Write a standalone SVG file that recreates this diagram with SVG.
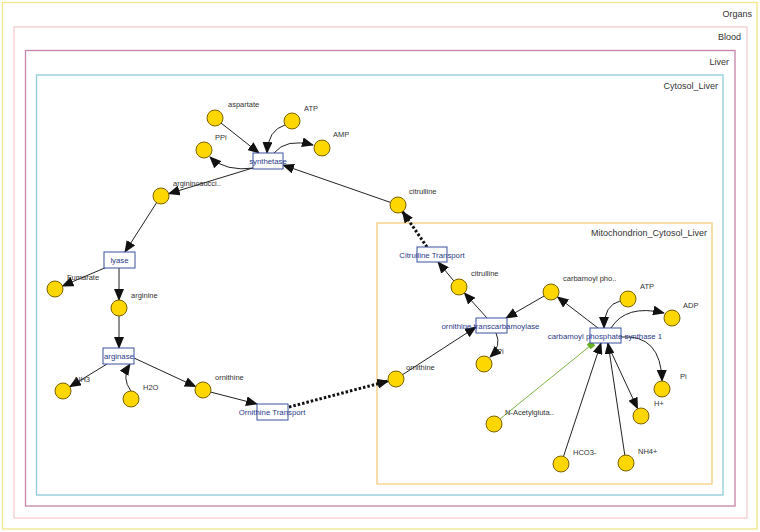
<svg xmlns="http://www.w3.org/2000/svg" width="760" height="532" viewBox="0 0 760 532">
<style>
.comp{fill:none;stroke-width:1.3}
.ct{font-family:"Liberation Sans",Arial,sans-serif;font-size:9px;fill:#333;text-anchor:end}
.sp circle{fill:#FFD700;stroke:#7a6000;stroke-width:1}
.sp text{font-family:"Liberation Sans",Arial,sans-serif;font-size:7.5px;fill:#333}
.rx rect{fill:#fff;stroke:#3a50a0;stroke-width:1}
.rx text{font-family:"Liberation Sans",Arial,sans-serif;font-size:7.8px;fill:#2b3a8c;text-anchor:middle}
.e{fill:none;stroke:#222;stroke-width:1;marker-end:url(#ah)}
.d{fill:none;stroke:#111;stroke-width:3;stroke-dasharray:2.5,2;marker-end:url(#ah)}
</style>
<defs>
<marker id="ah" markerUnits="userSpaceOnUse" markerWidth="12" markerHeight="10" refX="11" refY="5" orient="auto" viewBox="0 0 12 10"><path d="M0,0 L12,5 L0,10 z" fill="#111"/></marker>
</defs>
<rect width="760" height="532" fill="#fff"/>
<g id="compartments">
<rect class="comp" x="2.5" y="2.5" width="754.5" height="526.5" stroke="#f2e68a"/>
<text class="ct" x="752" y="17">Organs</text>
<rect class="comp" x="14" y="27" width="733" height="491" stroke="#f4cccc"/>
<text class="ct" x="741" y="40">Blood</text>
<rect class="comp" x="25.5" y="50.5" width="709.5" height="455.5" stroke="#c682aa"/>
<text class="ct" x="729" y="65">Liver</text>
<rect class="comp" x="36.5" y="75" width="686.5" height="420" stroke="#8ccad8"/>
<text class="ct" x="718" y="89">Cytosol_Liver</text>
<rect class="comp" x="377" y="223" width="335" height="261" stroke="#f2cc7e"/>
<text class="ct" x="707" y="236">Mitochondrion_Cytosol_Liver</text>
</g>
<g id="connectors">
<path class="e" d="M221,123 L259,153"/>
<path class="e" d="M285,125 Q268,130 267,153"/>
<path class="e" d="M274,153 Q286,138 313,145"/>
<path class="e" d="M255,168 Q225,172 210,157"/>
<path class="e" d="M256,167 L168.7,193.7"/>
<path class="e" d="M390.4,202.4 L283,165"/>
<path class="e" d="M156.6,202.7 L125,252"/>
<path class="e" d="M107,267 L62.4,286"/>
<path class="e" d="M119,268 L119,300"/>
<path class="e" d="M119,316 L119,348"/>
<path class="e" d="M107,364 L69.8,386.8"/>
<path class="e" d="M131,391 Q121,378 130,364"/>
<path class="e" d="M134,358 L195.7,386.6"/>
<path class="e" d="M210.7,392.1 L257,404"/>
<path class="d" d="M289,407 L388.3,381"/>
<path class="e" d="M402.7,374.6 L476,327"/>
<path class="e" d="M544.1,296 L506,318"/>
<path class="e" d="M487,318 L464.4,292.9"/>
<path class="e" d="M496,333 Q502,346 490,357"/>
<path class="e" d="M453.8,280.9 L438,262"/>
<path class="d" d="M427,247 L402.5,211.6"/>
<path class="e" d="M598,328 L557.4,296.9"/>
<path class="e" d="M620,301 Q604,305 604,328"/>
<path class="e" d="M611,328 Q626,304 664,313"/>
<path class="e" d="M621,337 Q661,334 662,381"/>
<path class="e" d="M607,343 L637.6,408.7"/>
<path class="e" d="M563.5,456.4 L601,343"/>
<path class="e" d="M624.8,455.1 L608,343"/>
<path d="M500,419 L590,346" fill="none" stroke="#7cb342" stroke-width="1"/>
<rect x="588" y="342" width="6" height="6" fill="#6ab023" transform="rotate(-39 591 345)"/>
</g>
<g id="synthetase" class="rx"><rect x="253" y="153" width="30" height="16"/><text x="268" y="164">synthetase</text></g>
<g id="lyase" class="rx"><rect x="104" y="252" width="31" height="16"/><text x="119.5" y="263">lyase</text></g>
<g id="arginase" class="rx"><rect x="103" y="348" width="31" height="16"/><text x="119" y="359">arginase</text></g>
<g id="ornithine_transport" class="rx"><rect x="257" y="404" width="31" height="16"/><text x="272" y="415">Ornithine Transport</text></g>
<g id="citrulline_transport" class="rx"><rect x="417" y="247" width="30" height="15"/><text x="432" y="258">Citrulline Transport</text></g>
<g id="otc" class="rx"><rect x="476" y="318" width="31" height="15"/><text x="490.5" y="329">ornithine transcarbamoylase</text></g>
<g id="cps1" class="rx"><rect x="590" y="328" width="31" height="15"/><text x="605" y="339">carbamoyl phosphate synthase 1</text></g>
<g id="aspartate" class="sp"><circle cx="215" cy="118" r="8"/><text x="228" y="107">aspartate</text></g>
<g id="atp1" class="sp"><circle cx="292" cy="121" r="8"/><text x="304" y="111">ATP</text></g>
<g id="amp" class="sp"><circle cx="322" cy="148" r="8"/><text x="333" y="137">AMP</text></g>
<g id="ppi" class="sp"><circle cx="204" cy="150" r="8"/><text x="215" y="140">PPi</text></g>
<g id="argininosucc" class="sp"><circle cx="161" cy="196" r="8"/><text x="173" y="186">argininosucci..</text></g>
<g id="citrulline_cyt" class="sp"><circle cx="398" cy="205" r="8"/><text x="409" y="194">citrulline</text></g>
<g id="fumarate" class="sp"><circle cx="55" cy="289" r="8"/><text x="67" y="280">Fumarate</text></g>
<g id="arginine" class="sp"><circle cx="119" cy="308" r="8"/><text x="131" y="298">arginine</text></g>
<g id="nh3" class="sp"><circle cx="63" cy="391" r="8"/><text x="75" y="382">NH3</text></g>
<g id="h2o" class="sp"><circle cx="131" cy="399" r="8"/><text x="143" y="390">H2O</text></g>
<g id="ornithine_cyt" class="sp"><circle cx="203" cy="390" r="8"/><text x="215" y="380">ornithine</text></g>
<g id="ornithine_mito" class="sp"><circle cx="396" cy="379" r="8"/><text x="406" y="370">ornithine</text></g>
<g id="citrulline_mito" class="sp"><circle cx="459" cy="287" r="8"/><text x="471" y="276">citrulline</text></g>
<g id="carbamoyl_p" class="sp"><circle cx="551" cy="292" r="8"/><text x="563" y="281">carbamoyl pho..</text></g>
<g id="pi1" class="sp"><circle cx="484" cy="364" r="8"/><text x="497" y="354">Pi</text></g>
<g id="atp2" class="sp"><circle cx="628" cy="299" r="8"/><text x="640" y="289">ATP</text></g>
<g id="adp" class="sp"><circle cx="672" cy="318" r="8"/><text x="683" y="308">ADP</text></g>
<g id="pi2" class="sp"><circle cx="662" cy="389" r="8"/><text x="680" y="379">Pi</text></g>
<g id="hplus" class="sp"><circle cx="641" cy="416" r="8"/><text x="654" y="406">H+</text></g>
<g id="nacetyl" class="sp"><circle cx="494" cy="424" r="8"/><text x="505" y="415">N-Acetylgluta..</text></g>
<g id="hco3" class="sp"><circle cx="561" cy="464" r="8"/><text x="573" y="455">HCO3-</text></g>
<g id="nh4" class="sp"><circle cx="626" cy="463" r="8"/><text x="638" y="454">NH4+</text></g>
</svg>
